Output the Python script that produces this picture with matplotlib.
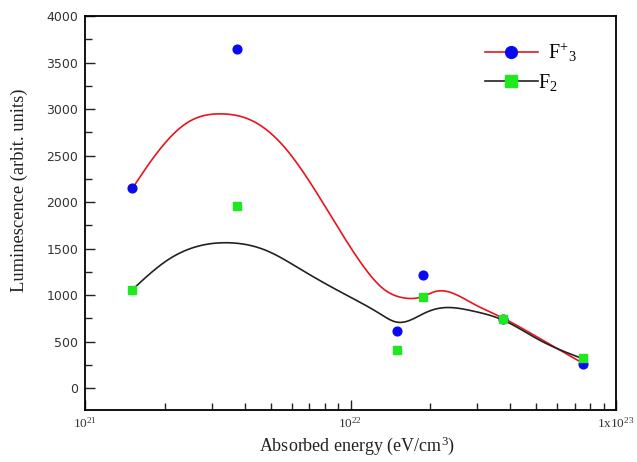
import numpy as np
import matplotlib
matplotlib.use("Agg")
import matplotlib.pyplot as plt
from matplotlib.ticker import FixedLocator, NullFormatter, LogLocator
from matplotlib.lines import Line2D

plt.rcParams["mathtext.fontset"] = "custom"
plt.rcParams["mathtext.rm"] = "Liberation Serif"
plt.rcParams["mathtext.it"] = "Liberation Serif:italic"
plt.rcParams["mathtext.bf"] = "Liberation Serif:bold"

# --- data ---
energy = [1.5e21, 3.75e21, 1.5e22, 1.88e22, 3.75e22, 7.5e22]
f3_plus = [2150, 3650, 615, 1220, 745, 255]
f2 = [1060, 1955, 405, 975, 740, 320]

# smooth fitted curves (knots)
f3_curve_x = [1.51e21, 1.81e21, 2.42e21, 3.27e21, 4.3e21, 5.6e21, 7.79e21,
              1.0e22, 1.15e22, 1.33e22, 1.58e22, 1.83e22, 2.11e22, 2.9e22, 3.73e22,
              5.17e22, 7.47e22]
f3_curve_y = [2150, 2477, 2851, 2948, 2869, 2600, 2013,
              1513, 1263, 1067, 971, 977, 1042, 907, 757,
              532, 271]
f2_curve_x = [1.51e21, 2.03e21, 2.71e21, 3.42e21, 4.83e21, 6.45e21, 7.67e21, 1.0e22,
              1.29e22, 1.49e22, 1.67e22, 1.88e22, 2.11e22, 2.9e22, 3.73e22, 5.17e22,
              7.47e22]
f2_curve_y = [1060, 1370, 1531, 1563, 1478, 1282, 1156, 977,
              800, 710, 728, 800, 853, 828, 735, 514,
              318]

yticks = [0, 500, 1000, 1500, 2000, 2500, 3000, 3500, 4000]
xtick_vals = [1e21, 1e22, 1e23]
xtick_labels = [r"$10^{21}$", r"$10^{22}$", r"$1\mathrm{x}10^{23}$"]


def natural_spline(x, y, xs):
    x = np.asarray(x, float); y = np.asarray(y, float)
    n = len(x)
    h = np.diff(x)
    A = np.zeros((n, n)); b = np.zeros(n)
    A[0, 0] = 1; A[-1, -1] = 1
    for i in range(1, n - 1):
        A[i, i - 1] = h[i - 1]
        A[i, i] = 2 * (h[i - 1] + h[i])
        A[i, i + 1] = h[i]
        b[i] = 6 * ((y[i + 1] - y[i]) / h[i] - (y[i] - y[i - 1]) / h[i - 1])
    M = np.linalg.solve(A, b)
    idx = np.clip(np.searchsorted(x, xs) - 1, 0, n - 2)
    x0 = x[idx]; x1 = x[idx + 1]; hh = x1 - x0
    t0 = x1 - xs; t1 = xs - x0
    return (M[idx] * t0 ** 3 / (6 * hh) + M[idx + 1] * t1 ** 3 / (6 * hh)
            + (y[idx] / hh - M[idx] * hh / 6) * t0 + (y[idx + 1] / hh - M[idx + 1] * hh / 6) * t1)


def smooth(xk, yk):
    lx = np.log10(xk)
    xs = np.linspace(lx[0], lx[-1], 500)
    return 10 ** xs, natural_spline(lx, yk, xs)


RED = "#e8141c"
BLACK = "#222222"
BLUE = "#0a0af0"
GREEN = "#1ee81e"

fig = plt.figure(figsize=(6.37, 4.62), dpi=100)
ax = fig.add_axes([85 / 637, 52 / 462, (616 - 85) / 637, (410 - 16) / 462])

sx, sy = smooth(f3_curve_x, f3_curve_y)
ax.plot(sx, sy, color=RED, lw=1.2, zorder=2)
sx2, sy2 = smooth(f2_curve_x, f2_curve_y)
ax.plot(sx2, sy2, color=BLACK, lw=1.2, zorder=2)

ax.plot(energy, f3_plus, "o", color=BLUE, ms=6.3, mec=BLUE, zorder=3)
ax.plot(energy, f2, "s", color=GREEN, ms=5.8, mec=GREEN, zorder=3)

ax.set_xscale("log")
ax.set_xlim(1e21, 1e23)
ax.set_ylim(-235, 4000)
ax.set_yticks(yticks)
ax.yaxis.set_minor_locator(FixedLocator(np.arange(250, 4000, 500)))
ax.set_xticks(xtick_vals)
ax.set_xticklabels(xtick_labels, fontsize=9.5, color="#333333")
ax.xaxis.set_minor_locator(LogLocator(base=10, subs=np.arange(2, 10)))
ax.xaxis.set_minor_formatter(NullFormatter())

ax.tick_params(axis="both", which="both", direction="in", top=False, right=False, color="#222222")
ax.tick_params(axis="both", which="major", length=7, width=1)
ax.tick_params(axis="both", which="minor", length=5, width=1)
ax.tick_params(axis="x", pad=4)
ax.tick_params(axis="y", labelsize=9, labelcolor="#333333", pad=5)
for s in ax.spines.values():
    s.set_linewidth(1.3)

ax.set_xlabel(r"Absorbed energy (eV/cm$^{3}$)", family="Liberation Serif", fontsize=13,
              color="#222222")
ax.xaxis.set_label_coords(0.512, -0.063)
ax.set_ylabel("Luminescence (arbit. units)", family="Liberation Serif", fontsize=13.3,
              color="#222222")
ax.yaxis.set_label_coords(-0.108, 0.558)

# legend
h1 = Line2D([], [], color=RED, lw=1.2, marker="o", ms=8.5, mfc=BLUE, mec=BLUE)
h2 = Line2D([], [], color=BLACK, lw=1.2, marker="s", ms=8, mfc=GREEN, mec=GREEN)
leg = ax.legend([h1, h2], ["\u2002F$^{+}$$_{3}$", "F$_{2}$"], loc="upper left",
                bbox_to_anchor=(0.753, 0.937), frameon=False, handlelength=2.63,
                handletextpad=0.0, labelspacing=0.4, borderpad=0, borderaxespad=0,
                prop={"family": "Liberation Serif", "size": 14.5})

fig.savefig("out.png", dpi=100)
